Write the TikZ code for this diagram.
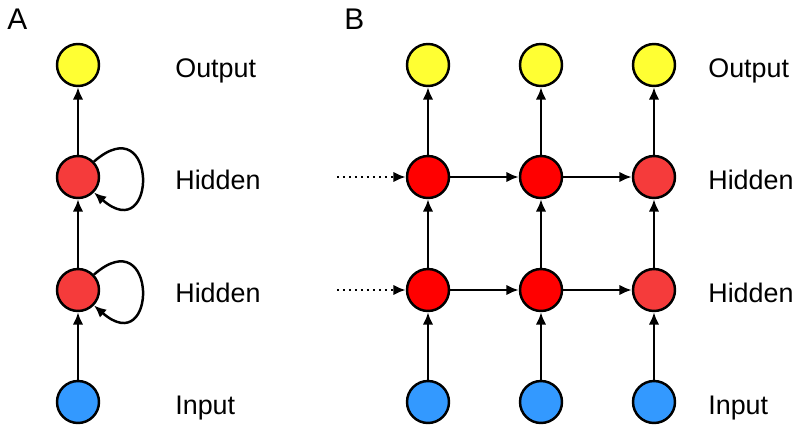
\documentclass[tikz,border=0pt]{standalone}
\usepackage{fontspec}
\setmainfont{Liberation Sans}
\usetikzlibrary{arrows.meta}
\definecolor{outcol}{HTML}{FFFF33}
\definecolor{hidcol}{HTML}{F53B3B}
\definecolor{hidcolb}{HTML}{FF0000}
\definecolor{incol}{HTML}{3399FF}
\begin{document}
\begin{tikzpicture}[x=0.02cm,y=-0.02cm,
	unit/.style={circle,draw,line width=1.4pt,minimum size=0.84cm,inner sep=0pt},
	lab/.style={anchor=base west,inner sep=0pt,font=\fontsize{15.3}{18}\selectfont},
	conn/.style={-{Latex[length=7pt,width=6pt]},line width=1.4pt}]
	\useasboundingbox (0,0) rectangle (800,430);
	%\draw[help lines] (0,0) grid[step=50] (800,430);
	% panel A
	\node[anchor=base west,inner sep=0pt,font=\fontsize{17}{20}\selectfont] (tA) at (7,29) {A};
	\node[unit,fill=outcol] (oA) at (78,65) {};
	\node[unit,fill=hidcol] (hA1) at (78,177) {};
	\node[unit,fill=hidcol] (hA2) at (78,290) {};
	\node[unit,fill=incol] (iA) at (78,402) {};
	\draw[conn] (iA) -- (hA2);
	\draw[conn] (hA2) -- (hA1);
	\draw[conn] (hA1) -- (oA);
	\draw[conn] (hA1.44) .. controls +(64,-56) and +(64,56) .. (hA1.-44);
	\draw[conn] (hA2.44) .. controls +(64,-56) and +(64,56) .. (hA2.-44);
	\node[lab] (lAo) at (175,77) {Output};
	\node[lab] (lAh1) at (175,189) {Hidden};
	\node[lab] (lAh2) at (175,302) {Hidden};
	\node[lab] (lAi) at (175,414) {Input};
	% panel B
	\node[anchor=base west,inner sep=0pt,font=\fontsize{17}{20}\selectfont] (tB) at (344,29) {B};
	\foreach \c/\x/\f in {1/428/hidcolb,2/541/hidcolb,3/654/hidcol} {
		\node[unit,fill=outcol] (o\c) at (\x,65) {};
		\node[unit,fill=\f] (hu\c) at (\x,177) {};
		\node[unit,fill=\f] (hl\c) at (\x,290) {};
		\node[unit,fill=incol] (i\c) at (\x,402) {};
		\draw[conn] (i\c) -- (hl\c);
		\draw[conn] (hl\c) -- (hu\c);
		\draw[conn] (hu\c) -- (o\c);
	}
	\foreach \a/\b in {1/2,2/3} {
		\draw[conn] (hu\a) -- (hu\b);
		\draw[conn] (hl\a) -- (hl\b);
	}
	\coordinate (du) at (337,177);
	\coordinate (dl) at (337,290);
	\draw[conn,dotted] (du) -- (hu1);
	\draw[conn,dotted] (dl) -- (hl1);
	\node[lab] (lBo) at (708,77) {Output};
	\node[lab] (lBh1) at (708,189) {Hidden};
	\node[lab] (lBh2) at (708,302) {Hidden};
	\node[lab] (lBi) at (708,414) {Input};
\end{tikzpicture}
\end{document}
